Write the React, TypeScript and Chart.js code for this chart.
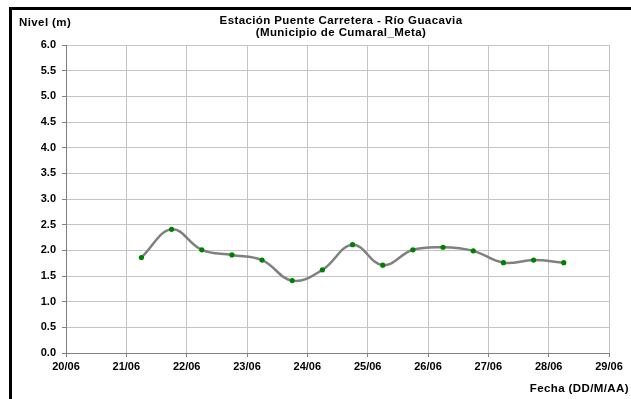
import React, { useEffect, useRef } from "react";
import { Chart, registerables } from "chart.js";

Chart.register(...registerables);

const fechas: string[] = [
  "21/06 06:00", "21/06 18:00", "22/06 06:00", "22/06 18:00", "23/06 06:00",
  "23/06 18:00", "24/06 06:00", "24/06 18:00", "25/06 06:00", "25/06 18:00",
  "26/06 06:00", "26/06 18:00", "27/06 06:00", "27/06 18:00", "28/06 06:00",
];
const niveles: number[] = [
  1.86, 2.41, 2.01, 1.91, 1.81, 1.41, 1.62, 2.11, 1.71, 2.01, 2.06, 1.99, 1.76, 1.81, 1.76,
];
const etiquetasFecha: string[] = [
  "20/06", "21/06", "22/06", "23/06", "24/06", "25/06", "26/06", "27/06", "28/06", "29/06",
];
const titulo: string[] = ["Estación Puente Carretera - Río Guacavia", "(Municipio de Cumaral_Meta)"];
const tituloY = "Nivel (m)";
const tituloX = "Fecha (DD/M/AA)";

const DIA_BASE = 20;
const FONT = "'Liberation Sans', Arial, Helvetica, sans-serif";

function aNumero(f: string): number {
  const [fecha, hora] = f.split(" ");
  const dia = parseInt(fecha.split("/")[0], 10);
  const [h, m] = hora.split(":").map((v) => parseInt(v, 10));
  return dia - DIA_BASE + (h + m / 60) / 24;
}

const textPlugin = {
  id: "textos",
  afterDraw(chart: any) {
    const ctx = chart.ctx;
    ctx.save();
    ctx.fillStyle = "#000";
    ctx.font = `bold 11.5px ${FONT}`;
    try {
      (ctx as any).letterSpacing = "0.4px";
    } catch (e) {}
    ctx.textBaseline = "middle";
    ctx.textAlign = "left";
    ctx.fillText(tituloY, 19, 23);
    ctx.textAlign = "center";
    const cx = 341;
    ctx.fillText(titulo[0], cx, 20.5);
    ctx.fillText(titulo[1], cx, 32.5);
    ctx.textAlign = "right";
    ctx.fillText(tituloX, 629, 389);
    try {
      (ctx as any).letterSpacing = "0px";
    } catch (e) {}
    ctx.restore();
  },
};

export default function App() {
  const ref = useRef<HTMLCanvasElement | null>(null);
  useEffect(() => {
    if (!ref.current) return;
    const data = fechas.map((f, i) => ({ x: aNumero(f), y: niveles[i] }));
    const chart = new Chart(ref.current, {
      type: "scatter",
      data: {
        datasets: [
          {
            data,
            showLine: true,
            borderColor: "#808080",
            borderWidth: 2.5,
            tension: 0.4,
            pointRadius: 2.6,
            pointBackgroundColor: "#008000",
            pointBorderColor: "#008000",
            pointBorderWidth: 0,
          },
        ],
      },
      options: {
        animation: false,
        responsive: false,
        devicePixelRatio: 1,
        layout: { padding: { top: 45, right: 22, bottom: 0, left: 0 } },
        plugins: {
          legend: { display: false },
          title: { display: false },
          tooltip: { enabled: false },
        },
        scales: {
          x: {
            type: "linear",
            min: 0,
            max: etiquetasFecha.length - 1,
            afterFit: (s: any) => {
              s.height = 46;
            },
            ticks: {
              stepSize: 1,
              autoSkip: false,
              maxRotation: 0,
              padding: 3,
              color: "#000",
              font: { family: FONT, size: 11, weight: "bold" },
              callback: (v: any) => etiquetasFecha[Math.round(Number(v))] ?? "",
            },
            grid: { color: "#c4c4c4", tickColor: "#808080", tickLength: 4, lineWidth: 1 },
            border: { color: "#808080", width: 1 },
          },
          y: {
            min: 0,
            max: 6,
            afterFit: (s: any) => {
              s.width = 66;
            },
            ticks: {
              stepSize: 0.5,
              padding: 6,
              color: "#000",
              font: { family: FONT, size: 11, weight: "bold" },
              callback: (v: any) => Number(v).toFixed(1),
            },
            grid: { color: "#c4c4c4", tickColor: "#808080", tickLength: 4, lineWidth: 1 },
            border: { color: "#808080", width: 1 },
          },
        },
      },
      plugins: [textPlugin],
    });
    return () => chart.destroy();
  }, []);

  return (
    <div style={{ position: "fixed", left: 0, top: 0, width: 631, height: 399, background: "#fff", overflow: "hidden" }}>
      <canvas ref={ref} width={631} height={399} style={{ position: "absolute", left: 0, top: 0, width: 631, height: 399 }} />
      <div
        style={{
          position: "absolute",
          left: 9,
          top: 7,
          width: 700,
          height: 500,
          borderLeft: "3px solid #000",
          borderTop: "3px solid #000",
          boxSizing: "border-box",
        }}
      />
    </div>
  );
}
